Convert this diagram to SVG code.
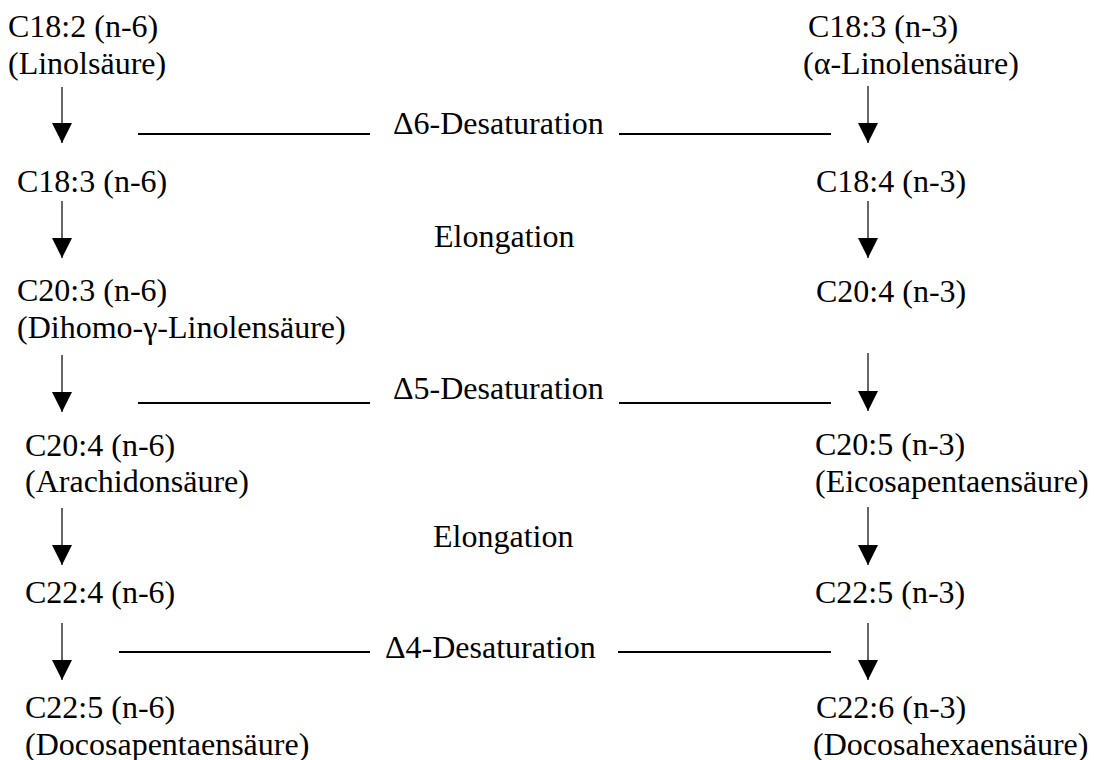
<svg xmlns="http://www.w3.org/2000/svg" width="1094" height="760" viewBox="0 0 1094 760">
<style>
text{font-family:"Liberation Serif","Times New Roman",serif;font-size:32px;fill:#000}
.arr{stroke:#000;stroke-width:1.2;fill:none}
.bar{stroke:#000;stroke-width:2;fill:none}
</style>
<defs>
<marker id="ah" viewBox="0 0 20 20" refX="20" refY="10" markerWidth="20" markerHeight="20" markerUnits="userSpaceOnUse" orient="auto">
<path d="M0,0 L20,10 L0,20 z" fill="#000"/>
</marker>
</defs>
<rect width="1094" height="760" fill="#fff"/>
<g id="connectors">
<line class="arr" x1="62" y1="87" x2="62" y2="143" marker-end="url(#ah)"/>
<line class="arr" x1="62" y1="201" x2="62" y2="258" marker-end="url(#ah)"/>
<line class="arr" x1="62" y1="355" x2="62" y2="412" marker-end="url(#ah)"/>
<line class="arr" x1="62" y1="508" x2="62" y2="565" marker-end="url(#ah)"/>
<line class="arr" x1="62" y1="623" x2="62" y2="680" marker-end="url(#ah)"/>
<line class="arr" x1="868" y1="86" x2="868" y2="143" marker-end="url(#ah)"/>
<line class="arr" x1="868" y1="201" x2="868" y2="258" marker-end="url(#ah)"/>
<line class="arr" x1="868" y1="353" x2="868" y2="411" marker-end="url(#ah)"/>
<line class="arr" x1="868" y1="507" x2="868" y2="565" marker-end="url(#ah)"/>
<line class="arr" x1="868" y1="623" x2="868" y2="680" marker-end="url(#ah)"/>
<line class="bar" x1="138" y1="134" x2="370" y2="134"/>
<line class="bar" x1="619" y1="134" x2="831" y2="134"/>
<line class="bar" x1="138" y1="403" x2="370" y2="403"/>
<line class="bar" x1="619" y1="403" x2="831" y2="403"/>
<line class="bar" x1="119" y1="652" x2="370" y2="652"/>
<line class="bar" x1="618" y1="652" x2="831" y2="652"/>
</g>
<g id="labels">
<text id="d6" x="393" y="134">Δ6-Desaturation</text>
<text id="el1" x="434" y="247">Elongation</text>
<text id="d5" x="393" y="399">Δ5-Desaturation</text>
<text id="el2" x="433" y="547">Elongation</text>
<text id="d4" x="385" y="658">Δ4-Desaturation</text>
</g>
<g id="n6-c18-2"><text x="8" y="37">C18:2 (n-6)</text><text x="8" y="74">(Linolsäure)</text></g>
<g id="n6-c18-3"><text x="17" y="192">C18:3 (n-6)</text></g>
<g id="n6-c20-3"><text x="17" y="301">C20:3 (n-6)</text><text x="17" y="338">(Dihomo-γ-Linolensäure)</text></g>
<g id="n6-c20-4"><text x="25" y="456">C20:4 (n-6)</text><text x="25" y="492">(Arachidonsäure)</text></g>
<g id="n6-c22-4"><text x="25" y="603">C22:4 (n-6)</text></g>
<g id="n6-c22-5"><text x="25" y="718">C22:5 (n-6)</text><text x="25" y="755">(Docosapentaensäure)</text></g>
<g id="n3-c18-3"><text x="808" y="37">C18:3 (n-3)</text><text x="803" y="74">(α-Linolensäure)</text></g>
<g id="n3-c18-4"><text x="816" y="192">C18:4 (n-3)</text></g>
<g id="n3-c20-4"><text x="816" y="302">C20:4 (n-3)</text></g>
<g id="n3-c20-5"><text x="815" y="455">C20:5 (n-3)</text><text x="815" y="492">(Eicosapentaensäure)</text></g>
<g id="n3-c22-5"><text x="815" y="603">C22:5 (n-3)</text></g>
<g id="n3-c22-6"><text x="816" y="718">C22:6 (n-3)</text><text x="813" y="755">(Docosahexaensäure)</text></g>
</svg>
